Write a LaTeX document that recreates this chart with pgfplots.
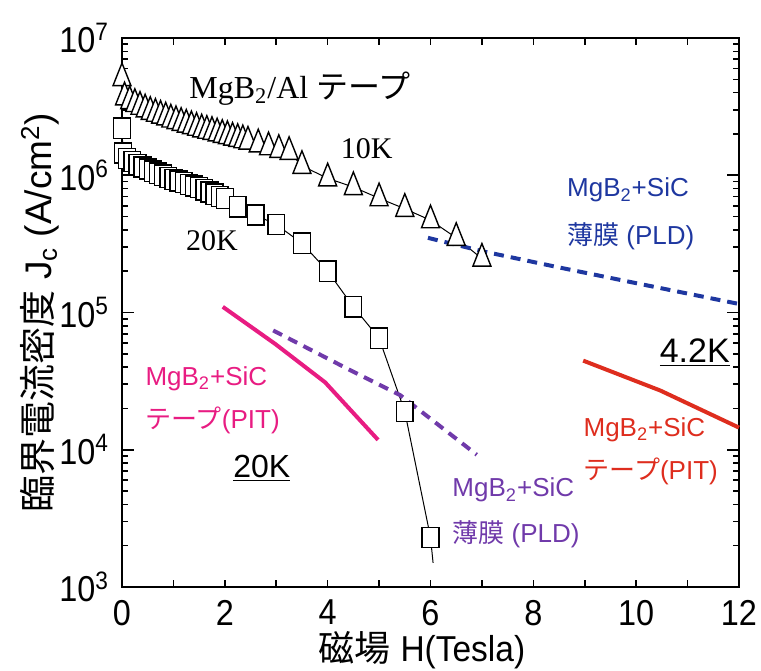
\documentclass[border=0pt]{standalone}
\usepackage{fontspec}
\usepackage{pgfplots}
\pgfplotsset{compat=1.18}
\setmainfont{Liberation Sans}
\newfontfamily\jp{Noto Sans CJK JP}
\newfontfamily\tms{Liberation Serif}
\newfontfamily\narrow[FakeStretch=0.9]{Liberation Sans}
\newfontfamily\semi[FakeStretch=0.93]{Liberation Sans}
\definecolor{pinkc}{RGB}{232,28,130}
\definecolor{bluec}{RGB}{30,55,160}
\definecolor{purplec}{RGB}{112,58,170}
\definecolor{redc}{RGB}{222,45,30}
\begin{document}
\begin{tikzpicture}
\path[use as bounding box] (-61pt,-41.5pt) rectangle (319.5pt,293.5pt);
\begin{axis}[
  at={(0,0)}, anchor=south west,
  width=308.5pt, height=274.5pt, scale only axis,
  xmin=0, xmax=12, ymode=log, ymin=1e3, ymax=1e7,
  xtick={0,1,...,12},
  xticklabels={0,,2,,4,,6,,8,,10,,12},
  ytick={1e3,1e4,1e5,1e6,1e7},
  yticklabels={10\textsuperscript{3},10\textsuperscript{4},10\textsuperscript{5},10\textsuperscript{6},10\textsuperscript{7}},
  tick align=inside,
  major tick length=6pt, minor tick length=3pt,
  xtick style={/pgfplots/major tick length=3.5pt},
  axis line style={line width=1.3pt},
  every tick/.style={black, line width=0.8pt},
  /pgf/number format/assume math mode=true,
  xticklabel style={font=\narrow\fontsize{18}{18}\selectfont, yshift=-3pt},
  yticklabel style={font=\narrow\fontsize{18}{18}\selectfont, xshift=-3pt},
  xlabel={{\jp 磁場} {\semi H(Tesla)}},
  xlabel style={at={(axis description cs:0.486,-0.115)}, anchor=center, font=\fontsize{18}{20}\selectfont},
  ylabel={{\jp 臨界電流密度} J\textsubscript{c} (A/cm\textsuperscript{2})},
  ylabel style={at={(axis description cs:-0.133,0.5)}, anchor=center, font=\fontsize{18.5}{20}\selectfont},
  clip=false,
]
% 10 K tape
\addplot[black, line width=0.5pt, mark=triangle*, mark size=5.2pt, mark options={fill=white, solid, line width=0.7pt, yscale=1.45}] coordinates {
(0,5.1e6) (0.05,3.7e6) (0.15,3.47e6) (0.25,3.31e6) (0.35,3.16e6) (0.45,3.02e6)
(0.55,2.90e6) (0.65,2.81e6) (0.75,2.72e6) (0.85,2.64e6) (0.95,2.55e6)
(1.05,2.48e6) (1.15,2.41e6) (1.25,2.34e6) (1.35,2.28e6) (1.45,2.22e6)
(1.55,2.16e6) (1.65,2.11e6) (1.75,2.07e6) (1.85,2.02e6) (1.95,1.97e6)
(2.05,1.93e6) (2.15,1.88e6) (2.25,1.84e6) (2.35,1.80e6) (2.45,1.76e6)
(2.65,1.68e6) (2.85,1.60e6) (3.05,1.53e6) (3.25,1.48e6)
(3.5,1.17e6) (4.0,9.5e5) (4.5,8.2e5) (5.0,6.8e5) (5.5,5.7e5) (6.0,4.7e5) (6.5,3.5e5) (7.0,2.47e5)
};
% 20 K tape
\addplot[black, line width=0.5pt] coordinates {(6.0,2.3e3) (6.05,1.5e3)};
\addplot[black, line width=0.5pt, mark=square*, mark size=4.2pt, mark options={fill=white, solid, line width=0.7pt, yscale=1.2}] coordinates {
(0,2.2e6) (0.02,1.45e6) (0.1,1.32e6) (0.2,1.26e6) (0.3,1.20e6) (0.4,1.15e6)
(0.5,1.11e6) (0.6,1.07e6) (0.7,1.035e6) (0.8,1.0e6) (0.9,9.66e5) (1.0,9.33e5)
(1.1,9.08e5) (1.2,8.83e5) (1.3,8.59e5) (1.4,8.36e5) (1.5,8.13e5) (1.6,7.83e5)
(1.7,7.55e5) (1.8,7.28e5) (1.9,7.02e5) (2.0,6.76e5) (2.25,5.89e5) (2.6,5.13e5)
(3.0,4.37e5) (3.5,3.2e5) (4.0,2.0e5) (4.5,1.1e5) (5.0,6.5e4) (5.5,1.9e4) (6.0,2.3e3)
};
% 4.2K thin film PLD (blue dashed)
\addplot[bluec, line width=2pt, dash pattern=on 5pt off 3.5pt] coordinates {
(5.95,3.5e5) (7.0,2.8e5) (8.5,2.13e5) (9.95,1.65e5) (11.97,1.16e5)
};
% 4.2K PIT tape (red)
\addplot[redc, line width=2pt] coordinates {
(8.97,4.46e4) (10.47,2.7e4) (12,1.45e4)
};
% 20K PIT tape (pink)
\addplot[pinkc, line width=2pt] coordinates {
(1.96,1.1e5) (2.98,5.9e4) (3.95,3.1e4) (4.98,1.18e4)
};
% 20K thin film PLD (purple dashed)
\addplot[purplec, line width=2pt, dash pattern=on 5pt off 3.5pt] coordinates {
(2.94,7.4e4) (4.38,3.9e4) (5.41,2.5e4) (6.9,9.2e3)
};
% labels
\node[font=\tms\fontsize{16}{18}\selectfont] at (axis cs:3.46,4.3e6) {MgB\textsubscript{2}/Al {\jp テープ}};
\node[font=\tms\fontsize{15}{18}\selectfont] at (axis cs:4.76,1.57e6) {10K};
\node[font=\tms\fontsize{15}{18}\selectfont] at (axis cs:1.75,3.36e5) {20K};
\node[font=\fontsize{13}{24}\selectfont, text=bluec, align=left, anchor=west, inner sep=0pt] at (axis cs:8.65,5.2e5) {MgB\textsubscript{2}+SiC\\{\jp 薄膜} (PLD)};
\node[font=\fontsize{13}{21.5}\selectfont, text=pinkc, align=left, anchor=west, inner sep=0pt] at (axis cs:0.45,2.3e4) {MgB\textsubscript{2}+SiC\\{\jp テープ}(PIT)};
\node[font=\fontsize{13}{23}\selectfont, text=purplec, align=left, anchor=west, inner sep=0pt] at (axis cs:6.42,3.47e3) {MgB\textsubscript{2}+SiC\\{\jp 薄膜} (PLD)};
\node[font=\fontsize{13}{21.5}\selectfont, text=redc, align=left, anchor=west, inner sep=0pt] at (axis cs:8.97,9.8e3) {MgB\textsubscript{2}+SiC\\{\jp テープ}(PIT)};
\node[font=\fontsize{17}{18}\selectfont] at (axis cs:11.14,5.1e4) {$\underline{\hbox{4.2K}}$};
\node[font=\fontsize{16}{18}\selectfont] at (axis cs:2.72,7.3e3) {$\underline{\hbox{20K}}$};
\end{axis}
\end{tikzpicture}
\end{document}
